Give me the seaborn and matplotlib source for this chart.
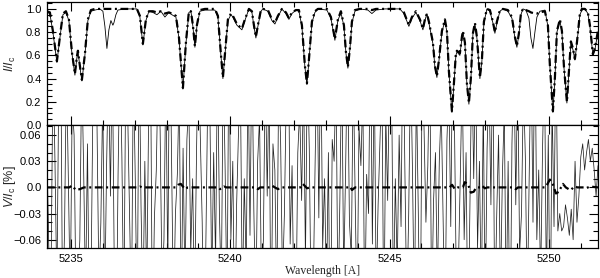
import numpy as np
import pandas as pd
import matplotlib
matplotlib.use("Agg")
import matplotlib.pyplot as plt
import seaborn as sns
from matplotlib.ticker import MultipleLocator, FixedLocator, FixedFormatter

# ---------------- data ----------------
wave_i = [5234.247, 5234.341, 5234.435, 5234.561, 5234.655, 5234.749, 5234.843, 5234.937,
          5235.031, 5235.126, 5235.188, 5235.220, 5235.282, 5235.345, 5235.439, 5235.533,
          5235.628, 5235.753, 5235.910, 5236.004, 5236.067, 5236.130, 5236.192, 5236.255,
          5236.318, 5236.349, 5236.412, 5236.475, 5236.695, 5237.071, 5237.165, 5237.259,
          5237.354, 5237.448, 5237.573, 5237.699, 5237.824, 5237.950, 5238.075, 5238.169,
          5238.295, 5238.389, 5238.515, 5238.609, 5238.703, 5238.766, 5238.828, 5238.891,
          5238.954, 5239.048, 5239.205, 5239.519, 5239.613, 5239.707, 5239.770, 5239.833,
          5239.927, 5240.021, 5240.084, 5240.209, 5240.366, 5240.460, 5240.586, 5240.680,
          5240.743, 5240.805, 5240.868, 5240.962, 5241.025, 5241.182, 5241.307, 5241.402,
          5241.496, 5241.621, 5241.747, 5241.841, 5241.935, 5242.061, 5242.155, 5242.249,
          5242.343, 5242.406, 5242.468, 5242.563, 5242.657, 5242.751, 5243.033, 5243.159,
          5243.284, 5243.378, 5243.473, 5243.567, 5243.630, 5243.692, 5243.755, 5243.818,
          5243.912, 5244.069, 5244.320, 5244.445, 5244.571, 5244.853, 5245.324, 5245.450,
          5245.606, 5245.701, 5245.826, 5245.952, 5246.046, 5246.109, 5246.171, 5246.234,
          5246.297, 5246.360, 5246.422, 5246.485, 5246.548, 5246.642, 5246.736, 5246.799,
          5246.862, 5246.956, 5247.019, 5247.081, 5247.113, 5247.207, 5247.270, 5247.301,
          5247.364, 5247.426, 5247.489, 5247.552, 5247.615, 5247.678, 5247.740, 5247.834,
          5247.897, 5247.960, 5248.054, 5248.148, 5248.242, 5248.305, 5248.368, 5248.462,
          5248.556, 5248.713, 5248.839, 5248.933, 5248.995, 5249.058, 5249.121, 5249.184,
          5249.278, 5249.372, 5249.435, 5249.498, 5249.560, 5249.623, 5249.717, 5249.874,
          5249.968, 5250.031, 5250.125, 5250.188, 5250.251, 5250.345, 5250.408, 5250.470,
          5250.564, 5250.627, 5250.690, 5250.753, 5250.815, 5250.878, 5250.972, 5251.035,
          5251.129, 5251.223, 5251.286, 5251.380, 5251.443, 5251.537]

i_obs = [0.97, 0.96, 0.80, 0.54, 0.75, 0.95, 0.97, 0.90,
         0.62, 0.43, 0.58, 0.64, 0.50, 0.38, 0.60, 0.90,
         0.98, 0.99, 1.00, 0.98, 0.85, 0.66, 0.82, 0.90,
         0.86, 0.88, 0.95, 0.99, 1.00, 1.00, 0.93, 0.69,
         0.90, 0.98, 0.97, 0.95, 0.98, 0.93, 0.97, 0.95,
         0.93, 0.75, 0.31, 0.70, 0.97, 0.98, 0.85, 0.67,
         0.85, 0.98, 0.99, 0.99, 0.93, 0.60, 0.40, 0.60,
         0.90, 0.95, 0.93, 0.86, 0.82, 0.90, 1.00, 0.97,
         0.85, 0.75, 0.85, 0.98, 1.00, 0.98, 0.90, 0.87,
         0.93, 1.00, 0.96, 0.91, 0.96, 0.99, 0.98, 0.85,
         0.50, 0.35, 0.55, 0.88, 0.97, 1.00, 0.99, 0.92,
         0.73, 0.90, 0.97, 0.85, 0.62, 0.49, 0.65, 0.88,
         0.98, 1.00, 0.99, 0.96, 0.99, 1.00, 1.00, 0.96,
         0.85, 0.92, 0.97, 0.90, 0.82, 0.90, 0.96, 0.88,
         0.79, 0.70, 0.50, 0.41, 0.55, 0.80, 0.90, 0.80,
         0.45, 0.11, 0.35, 0.60, 0.63, 0.60, 0.75, 0.80,
         0.70, 0.35, 0.18, 0.40, 0.78, 0.87, 0.75, 0.40,
         0.55, 0.88, 1.00, 0.98, 0.88, 0.79, 0.88, 0.98,
         1.00, 0.98, 0.92, 0.75, 0.67, 0.78, 0.95, 1.00,
         0.99, 0.92, 0.75, 0.66, 0.80, 0.93, 0.98, 0.99,
         0.85, 0.50, 0.11, 0.40, 0.80, 0.90, 0.80, 0.50,
         0.19, 0.45, 0.71, 0.65, 0.56, 0.70, 0.95, 0.99,
         1.00, 0.96, 0.85, 0.60, 0.65, 0.80]

i_syn = [0.98, 0.97, 0.81, 0.55, 0.76, 0.96, 0.98, 0.91,
         0.63, 0.44, 0.59, 0.64, 0.51, 0.39, 0.61, 0.91,
         0.99, 1.00, 1.00, 1.00, 1.00, 1.00, 1.00, 1.00,
         1.00, 1.00, 1.00, 1.00, 1.00, 1.00, 0.94, 0.70,
         0.91, 0.98, 0.98, 0.97, 0.98, 0.96, 0.97, 0.96,
         0.94, 0.76, 0.32, 0.71, 0.98, 0.98, 0.86, 0.68,
         0.86, 0.99, 1.00, 1.00, 0.94, 0.61, 0.41, 0.61,
         0.91, 0.96, 0.94, 0.87, 0.83, 0.91, 1.00, 0.98,
         0.86, 0.76, 0.86, 0.99, 1.00, 0.99, 0.91, 0.88,
         0.94, 1.00, 0.97, 0.92, 0.97, 0.99, 0.99, 0.86,
         0.51, 0.36, 0.56, 0.89, 0.98, 1.00, 1.00, 0.93,
         0.74, 0.91, 0.98, 0.86, 0.63, 0.50, 0.66, 0.89,
         0.99, 1.00, 1.00, 0.99, 1.00, 1.00, 1.00, 0.97,
         0.86, 0.93, 0.98, 0.91, 0.83, 0.91, 0.96, 0.89,
         0.80, 0.71, 0.51, 0.42, 0.56, 0.81, 0.91, 0.81,
         0.46, 0.12, 0.36, 0.62, 0.64, 0.62, 0.76, 0.81,
         0.71, 0.36, 0.19, 0.41, 0.79, 0.88, 0.76, 0.41,
         0.56, 0.89, 1.00, 0.99, 0.89, 0.80, 0.89, 0.99,
         1.00, 0.99, 0.93, 0.76, 0.68, 0.79, 0.96, 1.00,
         0.99, 0.98, 0.97, 0.965, 0.96, 0.96, 0.97, 0.98,
         0.86, 0.51, 0.12, 0.41, 0.81, 0.91, 0.81, 0.51,
         0.20, 0.46, 0.72, 0.66, 0.57, 0.71, 0.96, 1.00,
         1.00, 0.97, 0.86, 0.61, 0.66, 0.81]

v_wave_start = 5234.26
v_wave_step = 0.06
v_obs = [0.020, -0.095, -0.090, 0.150, 0.030, -0.120, 0.120, 0.180, -0.160, -0.050,
         0.140, 0.010, -0.130, 0.095, 0.060, -0.135, -0.110, -0.060, 0.140, 0.020,
         -0.125, 0.050, -0.170, -0.080, 0.130, 0.200, 0.070, -0.115, -0.040, 0.110,
         -0.140, 0.025, 0.145, -0.010, 0.160, -0.090, -0.200, 0.015, 0.160, 0.035,
         -0.155, 0.130, 0.090, -0.030, -0.150, 0.140, 0.010, -0.165, 0.175, -0.020,
         -0.145, 0.030, -0.120, 0.085, 0.150, -0.190, -0.035, 0.020, 0.145, 0.065,
         -0.115, -0.060, 0.140, -0.100, 0.210, 0.025, -0.150, -0.030, 0.015, 0.120,
         -0.165, 0.045, -0.120, 0.055, 0.100, -0.075, 0.010, -0.140, 0.035, 0.180,
         0.060, -0.040, -0.210, -0.050, 0.125, 0.095, -0.115, 0.040, -0.085, 0.155,
         -0.030, -0.120, 0.150, 0.020, -0.145, 0.190, -0.060, 0.030, -0.175, -0.020,
         0.065, 0.115, -0.135, 0.010, -0.095, 0.145, -0.055, 0.170, -0.025, -0.150,
         0.030, 0.080, -0.120, -0.060, 0.140, -0.010, 0.135, -0.195, 0.050, 0.020,
         -0.140, 0.125, 0.055, -0.110, -0.030, 0.115, 0.205, -0.065, 0.025, -0.145,
         -0.160, 0.040, 0.090, -0.015, 0.130, -0.085, 0.150, 0.045, -0.150, -0.130,
         0.020, 0.160, -0.035, 0.175, -0.070, 0.010, -0.125, 0.040, -0.215, 0.055,
         0.030, 0.135, -0.145, -0.015, 0.150, -0.105, 0.020, 0.165, -0.040, -0.080,
         0.135, -0.010, -0.155, 0.070, 0.025, 0.110, -0.155, 0.015, -0.030, 0.190,
         -0.065, 0.140, -0.125, -0.020, 0.055, 0.130, -0.180, 0.085, -0.015, 0.145,
         0.140, -0.135, 0.010, -0.095, 0.060, -0.045, 0.200, 0.020, -0.140, -0.030,
         0.150, 0.015, -0.160, 0.120, -0.025, -0.200, 0.135, 0.070, -0.040, 0.025,
         0.160, -0.150, -0.015, 0.040, -0.115, 0.030, 0.095, -0.035, -0.170, 0.055,
         0.120, -0.045, 0.180, 0.060, -0.130, -0.090, 0.015, 0.130, -0.060, 0.040,
         -0.185, -0.025, 0.150, 0.010, 0.145, -0.070, 0.030, -0.140, 0.100, -0.155,
         0.045, 0.125, -0.020, 0.175, -0.155, -0.035, 0.060, -0.125, 0.015, 0.090,
         -0.145, 0.030, -0.200, 0.050, 0.155, -0.020, 0.140, -0.075, -0.030, 0.120,
         0.035, -0.145, 0.010, 0.165, -0.040, 0.195, -0.060, 0.020, -0.110, 0.045,
         0.150, -0.120, 0.060, -0.180, 0.100, -0.045, 0.170, -0.050, -0.030, -0.050,
         -0.045, -0.020, -0.035, -0.055, -0.025, -0.060, 0.030, -0.040, -0.010, 0.035,
         0.050, 0.020, 0.040, 0.055, 0.030, 0.045, 0.020, -0.010, 0.025]

v_syn_wave = [5234.25, 5234.95, 5235.03, 5235.16, 5235.28, 5235.41, 5237.10, 5237.17, 5237.24,
              5238.28, 5238.36, 5238.45, 5238.58, 5238.67, 5239.62, 5239.68, 5239.80, 5239.88,
              5240.80, 5240.87, 5240.94, 5241.24, 5241.31, 5241.40, 5241.50, 5241.58,
              5242.20, 5242.28, 5242.41, 5242.50, 5243.72, 5243.76, 5243.82, 5243.92,
              5246.88, 5246.96, 5247.05, 5247.14, 5247.30, 5247.36, 5247.46, 5247.55,
              5247.64, 5247.72, 5247.84, 5247.90, 5247.99, 5248.07, 5248.90, 5248.96,
              5249.03, 5249.88, 5249.94, 5250.03, 5250.12, 5250.22, 5250.31, 5250.38,
              5250.44, 5250.53, 5250.62, 5250.69, 5250.79, 5250.90, 5251.10, 5251.16,
              5251.29, 5251.54]
v_syn = [0.0, 0.0, 0.002, -0.003, -0.002, 0.0, 0.0, 0.001, 0.0,
         0.0, 0.003, 0.004, -0.002, 0.0, 0.0, -0.002, 0.001, 0.0,
         0.0, -0.002, 0.0, 0.0, 0.002, 0.0, -0.002, 0.0,
         0.0, 0.004, -0.001, 0.0, 0.0, 0.001, -0.003, 0.0,
         0.0, 0.003, -0.002, 0.0, 0.0, 0.006, 0.004, -0.006,
         -0.005, 0.0, 0.0, 0.002, -0.001, 0.0, 0.0, -0.002,
         0.0, 0.0, 0.003, 0.009, 0.004, -0.007, -0.005, 0.0,
         0.004, 0.0, -0.002, -0.003, 0.001, 0.0, 0.0, -0.001,
         0.001, 0.0]

x_ticks = [5235, 5240, 5245, 5250]
i_ticks = [0.0, 0.2, 0.4, 0.6, 0.8, 1.0]
i_tick_labels = ["0.0", "0.2", "0.4", "0.6", "0.8", "1.0"]
v_ticks = [-0.06, -0.03, 0.0, 0.03, 0.06]
v_tick_labels = ["\u22120.06", "\u22120.03", "0.0", "0.03", "0.06"]

# ---------------- style ----------------
sns.set_style("ticks")
plt.rcParams['font.family'] = ['Liberation Sans', 'DejaVu Sans']
plt.rcParams['mathtext.fontset'] = 'custom'
plt.rcParams['mathtext.it'] = 'Liberation Sans:italic'
plt.rcParams['mathtext.rm'] = 'Liberation Sans'

df_i = pd.DataFrame({"wave": wave_i, "obs": i_obs, "syn": i_syn})
v_wave = v_wave_start + v_wave_step * np.arange(len(v_obs))
df_v = pd.DataFrame({"wave": v_wave, "obs": v_obs})
df_vs = pd.DataFrame({"wave": v_syn_wave, "syn": v_syn})

fig = plt.figure(figsize=(6.0, 2.78), dpi=100)
L, W = 47 / 600, 551 / 600
ax1 = fig.add_axes([L, 0.550, W, 0.443])
ax2 = fig.add_axes([L, 0.108, W, 0.442])

dashdot = (0, (3.5, 1.6, 0.9, 1.6))

sns.lineplot(data=df_i, x="wave", y="obs", ax=ax1, color="black", lw=0.6,
             sort=False, estimator=None)
sns.lineplot(data=df_i, x="wave", y="syn", ax=ax1, color="black", lw=1.6,
             linestyle=dashdot, sort=False, estimator=None)

sns.lineplot(data=df_v, x="wave", y="obs", ax=ax2, color="#222222", lw=0.55,
             sort=False, estimator=None)
sns.lineplot(data=df_vs, x="wave", y="syn", ax=ax2, color="black", lw=1.6,
             linestyle=dashdot, sort=False, estimator=None)

xlim = (5234.25, 5251.54)
for ax in (ax1, ax2):
    ax.set_xlim(*xlim)
    ax.xaxis.set_major_locator(FixedLocator(x_ticks))
    ax.xaxis.set_minor_locator(MultipleLocator(1))
    ax.tick_params(which="both", direction="in", top=True, right=True,
                   labelsize=8, width=0.8, colors="black")
    ax.tick_params(which="major", length=6.5, pad=4)
    ax.tick_params(which="minor", length=3.5)
    for s in ax.spines.values():
        s.set_linewidth(0.9)
        s.set_color("black")

ax1.set_ylim(0.0, 1.06)
ax1.yaxis.set_major_locator(FixedLocator(i_ticks))
ax1.yaxis.set_major_formatter(FixedFormatter(i_tick_labels))
ax1.yaxis.set_minor_locator(MultipleLocator(0.05))
ax1.tick_params(axis="x", labelbottom=False)
ax1.set_xlabel("")
ax1.set_ylabel("$I/I_{\\rm c}$", fontsize=9)
ax1.yaxis.set_label_coords(-0.052, 0.5)

ax2.set_ylim(-0.0695, 0.0715)
ax2.yaxis.set_major_locator(FixedLocator(v_ticks))
ax2.yaxis.set_major_formatter(FixedFormatter(v_tick_labels))
ax2.yaxis.set_minor_locator(MultipleLocator(0.01))
ax2.xaxis.set_major_formatter(FixedFormatter([str(t) for t in x_ticks]))
ax2.set_ylabel("$V/I_{\\rm c}$ [%]", fontsize=9)
ax2.yaxis.set_label_coords(-0.052, 0.5)
ax2.set_xlabel("Wavelength [A]", fontsize=8.5, family=["Liberation Serif", "DejaVu Serif"],
               labelpad=1)

fig.savefig("out.png", dpi=100)
